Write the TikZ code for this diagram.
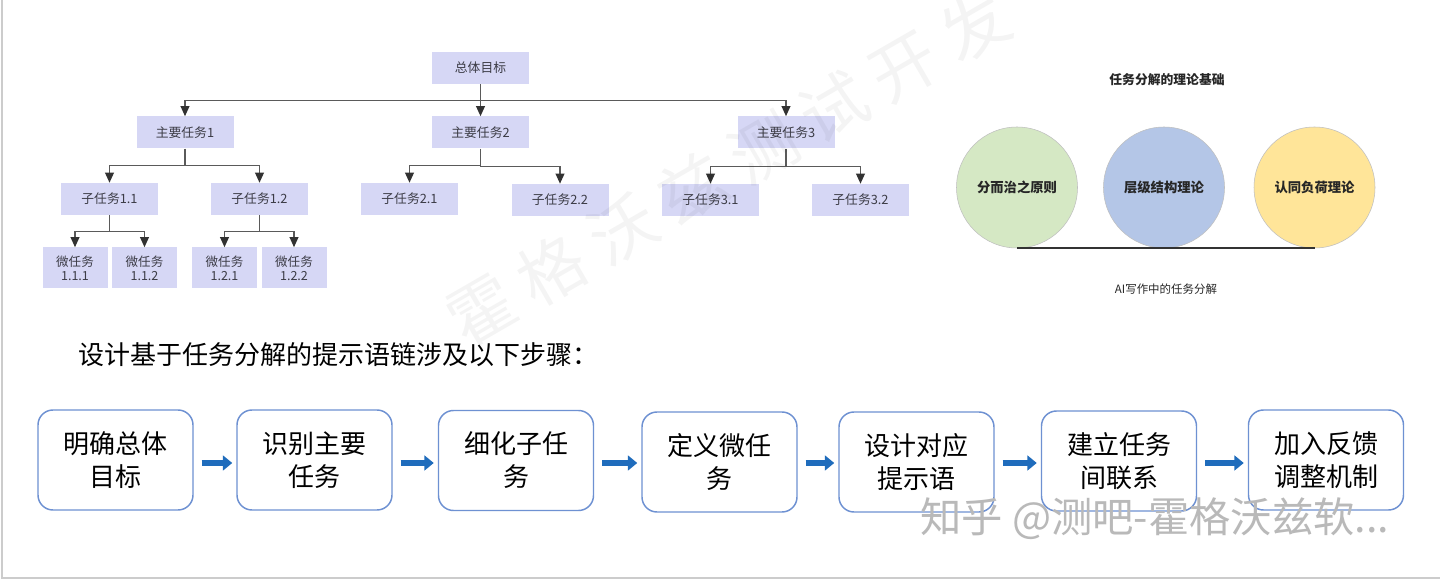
\documentclass[tikz,border=0pt]{standalone}
\usepackage{fontspec}
\setmainfont{Noto Sans CJK SC}
\usetikzlibrary{arrows.meta,calc}
\newdimen\pxu \pxu=0.75pt
\definecolor{treefill}{RGB}{214,215,245}
\definecolor{treetext}{RGB}{60,60,70}
\definecolor{treeline}{RGB}{90,90,90}
\definecolor{treehead}{RGB}{50,50,50}
\definecolor{cgreen}{RGB}{213,232,196}
\definecolor{cblue}{RGB}{180,198,231}
\definecolor{cyellow}{RGB}{255,229,153}
\definecolor{stepblue}{RGB}{110,145,210}
\definecolor{arrowblue}{RGB}{31,108,188}
\definecolor{wmgray}{RGB}{185,185,185}
\begin{document}
\begin{tikzpicture}[x=0.75pt,y=-0.75pt,
  tbox/.style={fill=treefill, minimum width=97*\pxu, minimum height=32*\pxu, inner sep=0pt, text=treetext, font=\fontsize{9.6pt}{11pt}\selectfont},
  mbox/.style={tbox, minimum width=65*\pxu, minimum height=41*\pxu, align=center, font=\fontsize{9.4pt}{10.3pt}\selectfont},
  tarr/.style={draw=treeline, line width=1.1pt, -{Triangle[length=7.5pt,width=6.5pt,color=treehead]}},
  cnode/.style={circle, minimum size=121*\pxu, inner sep=0pt, draw=black!25, line width=0.4pt, font=\bfseries\fontsize{10pt}{11pt}\selectfont, text=black!85},
  sbox/.style={draw=stepblue, line width=1.1pt, rounded corners=15*\pxu, fill=white, minimum width=155*\pxu, minimum height=100*\pxu, inner sep=0pt, align=center, font=\fontsize{19.5pt}{24.75pt}\selectfont},
  sarr/.style={draw=arrowblue, line width=4.2pt, -{Triangle[length=7pt,width=11pt]}, shorten <=6pt, shorten >=3pt}
]
\useasboundingbox (0,0) rectangle (1440,580);
\fill[white] (0,0) rectangle (1440,580);
\draw[black!20, line width=1.2pt] (2,0) -- (2,578) -- (1440,578);

% ---------- tree ----------
\node[tbox] (root) at (480.5,68) {总体目标};
\node[tbox] (m1) at (185,132.5) {主要任务1};
\node[tbox] (m2) at (480.5,132.5) {主要任务2};
\node[tbox] (m3) at (786,132.5) {主要任务3};
\node[tbox] (s11) at (109.5,199) {子任务1.1};
\node[tbox] (s12) at (259.5,199) {子任务1.2};
\node[tbox] (s21) at (409.5,199) {子任务2.1};
\node[tbox] (s22) at (560,200) {子任务2.2};
\node[tbox] (s31) at (710.5,200) {子任务3.1};
\node[tbox] (s32) at (860.5,200) {子任务3.2};
\node[mbox] (u111) at (75,268) {微任务\\1.1.1};
\node[mbox] (u112) at (144.5,268) {微任务\\1.1.2};
\node[mbox] (u121) at (224.5,268) {微任务\\1.2.1};
\node[mbox] (u122) at (294,268) {微任务\\1.2.2};

\foreach \p/\c in {root/m1,root/m2,root/m3,m1/s11,m1/s12,m2/s21,m2/s22,m3/s31,m3/s32,s11/u111,s11/u112,s12/u121,s12/u122}{
  \draw[tarr] (\p.south) |- ($(\p.south)!0.5!(\c.north)$) -| (\c.north);
}

% ---------- theory circles ----------
\node[font=\bfseries\fontsize{9.6pt}{11pt}\selectfont, text=black!85] (ttl) at (1167,80) {任务分解的理论基础};
\node[cnode, fill=cgreen] (c1) at (1017,187.5) {分而治之原则};
\node[cnode, fill=cblue] (c2) at (1164,187.5) {层级结构理论};
\node[cnode, fill=cyellow] (c3) at (1314.5,187.5) {认同负荷理论};
\draw[black!80, line width=1.3pt] (c1.south) -- (c3.south);
\node[font=\fontsize{8.6pt}{10pt}\selectfont, text=black!85] (sub) at (1166,289.5) {AI写作中的任务分解};

% ---------- steps ----------
\node[anchor=west, font=\fontsize{19.5pt}{22pt}\selectfont, inner sep=0pt] (head) at (78,355) {设计基于任务分解的提示语链涉及以下步骤：};
\node[sbox] (b1) at (115.5,460) {明确总体\\目标};
\node[sbox] (b2) at (314.5,460) {识别主要\\任务};
\node[sbox] (b3) at (516,460.5) {细化子任\\务};
\node[sbox] (b4) at (719.5,462) {定义微任\\务};
\node[sbox] (b5) at (916.5,462) {设计对应\\提示语};
\node[sbox] (b6) at (1119,461) {建立任务\\间联系};
\node[sbox] (b7) at (1326,460) {加入反馈\\调整机制};
\foreach \a/\b in {b1/b2,b2/b3,b3/b4,b4/b5,b5/b6,b6/b7}{
  \draw[sarr] (\a.east |- 0,463) -- (\b.west |- 0,463);
}

% ---------- watermarks ----------
\node[rotate=30, text=black, opacity=0.045, font=\fontsize{50pt}{56pt}\selectfont] (wm1) at (728,168) {霍\hspace{0.22em}格\hspace{0.22em}沃\hspace{0.22em}兹\hspace{0.22em}测\hspace{0.22em}试\hspace{0.22em}开\hspace{0.22em}发};
\node[anchor=west, text=wmgray, font=\fontsize{31pt}{34pt}\selectfont, inner sep=0pt] (wm2) at (920,519) {知乎 @测吧-霍格沃兹软...};
\end{tikzpicture}
\end{document}
